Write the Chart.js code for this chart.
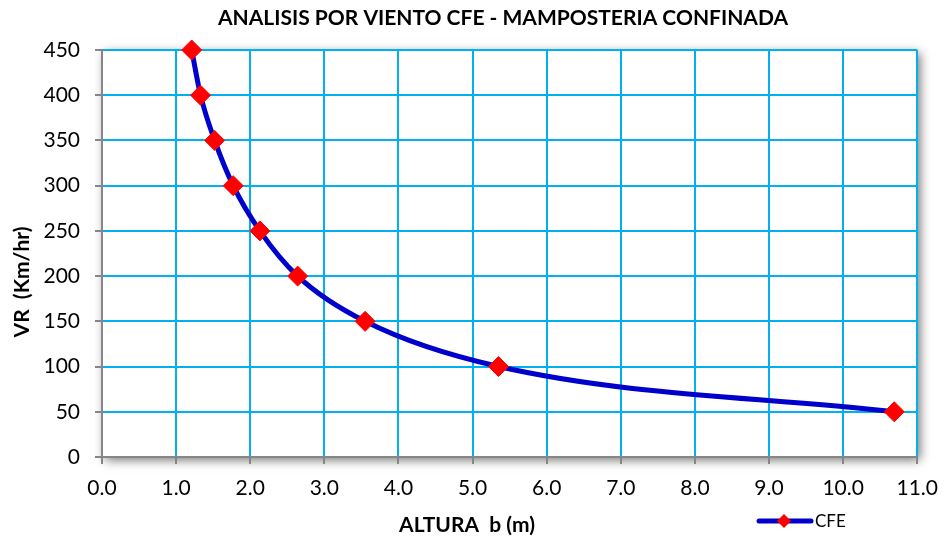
<!DOCTYPE html>
<html>
<head>
<meta charset="utf-8">
<script src="https://cdn.jsdelivr.net/npm/chart.js@4.4.1/dist/chart.umd.min.js"></script>
<style>
  html, body { margin: 0; padding: 0; background: #fff; }
  #wrap { width: 950px; height: 537px; position: relative; }
</style>
</head>
<body>
<div id="wrap"><canvas id="grafico"></canvas></div>
<script>
// Datos
const velocidades = [450, 400, 350, 300, 250, 200, 150, 100, 50];
const alturas = [1.21, 1.33, 1.52, 1.77, 2.13, 2.64, 3.55, 5.35, 10.69];
const ticksX = [0, 1, 2, 3, 4, 5, 6, 7, 8, 9, 10, 11];
const ticksY = [0, 50, 100, 150, 200, 250, 300, 350, 400, 450];

const FUENTE = 'Lato, "Open Sans", sans-serif';
const AZUL = '#0000CC';
const ROJO = '#FF0000';
const CIAN = '#00B0F0';
const GRIS = '#868686';

// sombra del area de trazado, titulos y leyenda
const extras = {
    id: 'extras',
    beforeDraw(chart) {
        const { ctx, chartArea: a } = chart;
        ctx.save();
        ctx.shadowColor = 'rgba(0,0,0,0.55)';
        ctx.shadowBlur = 10;
        ctx.shadowOffsetX = 3;
        ctx.shadowOffsetY = 3;
        ctx.fillStyle = '#fff';
        ctx.fillRect(a.left, a.top, a.right - a.left, a.bottom - a.top);
        ctx.restore();
    },
    afterDraw(chart) {
        const ctx = chart.ctx;
        ctx.save();
        ctx.fillStyle = '#000';
        ctx.textAlign = 'center';
        ctx.textBaseline = 'middle';
        ctx.font = 'bold 21px ' + FUENTE;
        ctx.fillText('ANALISIS POR VIENTO CFE - MAMPOSTERIA CONFINADA', 503, 18);
        ctx.fillText('ALTURA  b (m)', 467, 525);

        ctx.save();
        ctx.translate(22, 282);
        ctx.rotate(-Math.PI / 2);
        ctx.fillText('VR  (Km/hr)', 0, 0);
        ctx.restore();

        // leyenda
        ctx.strokeStyle = AZUL;
        ctx.lineWidth = 5;
        ctx.lineCap = 'round';
        ctx.beginPath();
        ctx.moveTo(759, 521);
        ctx.lineTo(811, 521);
        ctx.stroke();
        ctx.fillStyle = ROJO;
        ctx.beginPath();
        ctx.moveTo(784, 514);
        ctx.lineTo(791, 521);
        ctx.lineTo(784, 528);
        ctx.lineTo(777, 521);
        ctx.closePath();
        ctx.fill();
        ctx.fillStyle = '#000';
        ctx.font = '17px ' + FUENTE;
        ctx.textAlign = 'left';
        ctx.fillText('CFE', 815, 522);
        ctx.restore();
    }
};

const puntos = alturas.map((b, i) => ({ x: b, y: velocidades[i] }));

new Chart(document.getElementById('grafico'), {
    type: 'scatter',
    data: {
        datasets: [{
            label: 'CFE',
            data: puntos,
            showLine: true,
            clip: false,
            borderColor: AZUL,
            borderWidth: 5,
            cubicInterpolationMode: 'monotone',
            pointStyle: 'rectRot',
            pointRadius: 10,
            pointHoverRadius: 10,
            pointBackgroundColor: ROJO,
            pointBorderColor: ROJO,
            pointBorderWidth: 1
        }]
    },
    options: {
        responsive: true,
        maintainAspectRatio: false,
        animation: false,
        layout: { padding: { top: 50, right: 32, bottom: 0, left: 0 } },
        plugins: {
            legend: { display: false },
            tooltip: { enabled: false },
            title: { display: false }
        },
        scales: {
            x: {
                type: 'linear',
                min: 0,
                max: 11,
                afterBuildTicks(scale) { scale.ticks = ticksX.map(v => ({ value: v })); },
                afterFit(scale) { scale.height = 80; },
                ticks: {
                    color: '#000',
                    font: { family: FUENTE, size: 21 },
                    padding: 12,
                    maxRotation: 0,
                    callback: v => Number(v).toFixed(1)
                },
                grid: {
                    color: CIAN,
                    lineWidth: 2,
                    tickColor: GRIS,
                    tickLength: 7
                },
                border: { color: GRIS, width: 2 }
            },
            y: {
                type: 'linear',
                min: 0,
                max: 450,
                afterBuildTicks(scale) { scale.ticks = ticksY.map(v => ({ value: v })); },
                afterFit(scale) { scale.width = 102; },
                ticks: {
                    color: '#000',
                    font: { family: FUENTE, size: 21 },
                    padding: 15
                },
                grid: {
                    color: CIAN,
                    lineWidth: 2,
                    tickColor: GRIS,
                    tickLength: 7
                },
                border: { color: GRIS, width: 2 }
            }
        }
    },
    plugins: [extras]
});
</script>
</body>
</html>
